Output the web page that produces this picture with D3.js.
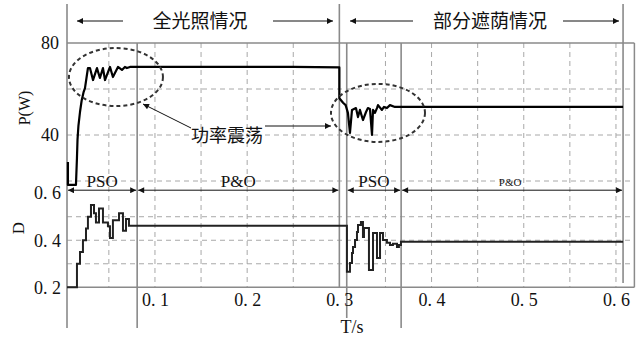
<!DOCTYPE html>
<html>
<head>
<meta charset="utf-8">
<script src="https://cdn.jsdelivr.net/npm/d3@7"></script>
<style>
  body { margin: 0; background: #fff; }
  text { font-family: "Liberation Serif", "Noto Sans CJK SC", serif; fill: #111; }
  .cjk { font-family: "Noto Sans CJK SC", sans-serif; }
</style>
</head>
<body>
<script>
// Chart data
var timeTicks = [0.1, 0.2, 0.3, 0.4, 0.5, 0.6];
var timeGrid = [0.05, 0.1, 0.15, 0.2, 0.25, 0.35, 0.4, 0.45, 0.5, 0.55, 0.6];
var powerTicks = [40, 80];
var powerGrid = [20, 40, 60];
var dutyTicks = [0.2, 0.4, 0.6];
var dutyGrid = [0.3, 0.4, 0.5];

// phase boundaries (s)
var phaseEdges = [0.0046, 0.0807, 0.3, 0.308, 0.367, 0.6077];
var phaseNames = ["PSO", "P&O", "PSO", "P&O"];
var caseNames = ["全光照情况", "部分遮荫情况"];

// output power P (W)
var pTime = [0.0056, 0.0056, 0.0143, 0.0154, 0.016, 0.017, 0.0187, 0.0205, 0.0225, 0.0241,
  0.0262, 0.0273, 0.0295, 0.0328, 0.0371, 0.0403, 0.0436, 0.0458, 0.0512, 0.0544,
  0.0599, 0.0642, 0.0674, 0.0696, 0.0729, 0.25, 0.3, 0.3, 0.304, 0.3068,
  0.3093, 0.3115, 0.3137, 0.318, 0.3202, 0.3223, 0.3256, 0.3289, 0.331, 0.3332,
  0.3354, 0.3365, 0.3386, 0.3408, 0.3419, 0.3462, 0.3484, 0.3516, 0.3549, 0.3603,
  0.3677, 0.6077];
var pValue = [28.3, 18.3, 18.3, 30, 38, 44, 50, 55, 58.5, 60.4,
  66.1, 69.1, 69.1, 63.9, 69.1, 64.8, 69.1, 63.9, 69.6, 65.2,
  69.6, 68.3, 69.6, 69.1, 69.6, 69.6, 69.4, 56, 54, 53,
  49.6, 40.9, 50.9, 51.7, 47.8, 50.9, 46.5, 50, 51.7, 51.3,
  40, 50.9, 49.6, 51.7, 53, 50.9, 52.2, 51.7, 53, 52.2,
  52.2, 52.2];

// duty cycle D (step signal)
var dTime = [0.0046, 0.0154, 0.0187, 0.0219, 0.0252, 0.0273, 0.0306, 0.0339, 0.036, 0.0393,
  0.0436, 0.049, 0.0512, 0.0544, 0.061, 0.0653, 0.0686, 0.0718, 0.3082, 0.3115,
  0.3137, 0.3148, 0.317, 0.3191, 0.3202, 0.3234, 0.3256, 0.3267, 0.3321, 0.3365,
  0.3408, 0.3441, 0.3473, 0.3516, 0.3549, 0.3581, 0.3625, 0.3646, 0.3668, 0.6077];
var dValue = [0.2, 0.3, 0.35, 0.4, 0.45, 0.5, 0.55, 0.515, 0.475, 0.535,
  0.475, 0.46, 0.41, 0.485, 0.515, 0.44, 0.49, 0.462, 0.266, 0.303,
  0.346, 0.371, 0.401, 0.435, 0.465, 0.478, 0.414, 0.452, 0.274, 0.431,
  0.325, 0.431, 0.401, 0.389, 0.38, 0.385, 0.371, 0.38, 0.394, 0.394];

var svgWidth = 641;
var svgHeight = 341;

var svg = d3.select("body")
  .append("svg")
  .attr("width", svgWidth)
  .attr("height", svgHeight);

svg.append("defs").append("marker")
  .attr("id", "arrow")
  .attr("viewBox", "0 0 10 10")
  .attr("refX", 10).attr("refY", 5)
  .attr("markerWidth", 9).attr("markerHeight", 6)
  .attr("markerUnits", "userSpaceOnUse")
  .attr("orient", "auto-start-reverse")
  .append("path")
  .attr("d", "M0,0 L10,5 L0,10 Z")
  .attr("fill", "#111");

// scales
var xScale = d3.scaleLinear().domain([0.0046, 0.62]).range([67, 634.4]);
var pScale = d3.scaleLinear().domain([40, 80]).range([135, 43]);
var dScale = d3.scaleLinear().domain([0.2, 0.6]).range([287.3, 193.2]);

var gridColor = "#a8a8a8";
var frameColor = "#8a8a8a";

// dashed grid
svg.append("g").selectAll("line")
  .data(timeGrid)
  .enter().append("line")
  .attr("x1", d => xScale(d)).attr("x2", d => xScale(d))
  .attr("y1", pScale(80)).attr("y2", dScale(0.2))
  .attr("stroke", gridColor).attr("stroke-dasharray", "5,4");

svg.append("g").selectAll("line")
  .data(powerGrid)
  .enter().append("line")
  .attr("x1", xScale.range()[0]).attr("x2", xScale.range()[1])
  .attr("y1", d => pScale(d)).attr("y2", d => pScale(d))
  .attr("stroke", gridColor).attr("stroke-dasharray", "5,4");

svg.append("g").selectAll("line")
  .data(dutyGrid)
  .enter().append("line")
  .attr("x1", xScale.range()[0]).attr("x2", xScale.range()[1])
  .attr("y1", d => dScale(d)).attr("y2", d => dScale(d))
  .attr("stroke", gridColor).attr("stroke-dasharray", "5,4");

// frame
svg.append("line")
  .attr("x1", xScale.range()[0]).attr("x2", xScale.range()[1])
  .attr("y1", pScale(80)).attr("y2", pScale(80))
  .attr("stroke", frameColor).attr("stroke-width", 1.5);
svg.append("line")
  .attr("x1", xScale.range()[0]).attr("x2", xScale.range()[1])
  .attr("y1", dScale(0.2)).attr("y2", dScale(0.2))
  .attr("stroke", frameColor).attr("stroke-width", 1.5);
svg.append("line")
  .attr("x1", xScale.range()[1]).attr("x2", xScale.range()[1])
  .attr("y1", pScale(80)).attr("y2", dScale(0.2))
  .attr("stroke", frameColor).attr("stroke-width", 1.5);

// phase boundary lines
var edgeTop = [4, 43, 4, 43, 43, 4];
var edgeBottom = [328, 328, 288, 318, 328, 283];
svg.append("g").selectAll("line")
  .data(phaseEdges)
  .enter().append("line")
  .attr("x1", d => xScale(d)).attr("x2", d => xScale(d))
  .attr("y1", (d, i) => edgeTop[i]).attr("y2", (d, i) => edgeBottom[i])
  .attr("stroke", frameColor).attr("stroke-width", 1.6);

// curves
var pLine = d3.line()
  .x(d => xScale(d[0]))
  .y(d => pScale(d[1]));
svg.append("path")
  .datum(pTime.map((t, i) => [t, pValue[i]]))
  .attr("d", pLine)
  .attr("fill", "none")
  .attr("stroke", "#000")
  .attr("stroke-width", 2.2)
  .attr("stroke-linejoin", "round");

var dLine = d3.line()
  .curve(d3.curveStepAfter)
  .x(d => xScale(d[0]))
  .y(d => dScale(d[1]));
svg.append("path")
  .datum(dTime.map((t, i) => [t, dValue[i]]))
  .attr("d", dLine)
  .attr("fill", "none")
  .attr("stroke", "#222")
  .attr("stroke-width", 2);

// oscillation ellipses
var ellipses = [[0.0577, 65.2], [0.3419, 49.6]];
svg.append("g").selectAll("ellipse")
  .data(ellipses)
  .enter().append("ellipse")
  .attr("cx", d => xScale(d[0]))
  .attr("cy", d => pScale(d[1]))
  .attr("rx", 47).attr("ry", 29)
  .attr("fill", "none")
  .attr("stroke", "#333")
  .attr("stroke-width", 2)
  .attr("stroke-dasharray", "4,3");

// 功率震荡 label with arrows
svg.append("text")
  .attr("class", "cjk")
  .attr("x", 227).attr("y", 142)
  .attr("text-anchor", "middle")
  .attr("font-size", 18)
  .text("功率震荡");
svg.append("line")
  .attr("x1", 191).attr("y1", 128).attr("x2", 143).attr("y2", 104)
  .attr("stroke", "#111").attr("stroke-width", 1)
  .attr("marker-end", "url(#arrow)");
svg.append("line")
  .attr("x1", 265).attr("y1", 126).attr("x2", 331).attr("y2", 126)
  .attr("stroke", "#111").attr("stroke-width", 1)
  .attr("marker-end", "url(#arrow)");

// top case headers: [text centre, left arrow tip, right arrow tip]
var caseSpans = [[200, 77, 333], [490, 350, 619]];
caseSpans.forEach(function(s, i) {
  var cx = s[0];
  svg.append("line")
    .attr("x1", cx - 77).attr("x2", s[1]).attr("y1", 21).attr("y2", 21)
    .attr("stroke", "#111").attr("marker-end", "url(#arrow)");
  svg.append("line")
    .attr("x1", cx + 73).attr("x2", s[2]).attr("y1", 21).attr("y2", 21)
    .attr("stroke", "#111").attr("marker-end", "url(#arrow)");
  svg.append("text")
    .attr("class", "cjk")
    .attr("x", cx).attr("y", 28)
    .attr("text-anchor", "middle")
    .attr("font-size", 19)
    .text(caseNames[i]);
});

// PSO / P&O phase arrows
var arrowY = dScale(0.6) - 3;
var phaseSegs = [[0, 1], [1, 2], [3, 4], [4, 5]];
phaseSegs.forEach(function(s, i) {
  var x1 = xScale(phaseEdges[s[0]]) + 1;
  var x2 = xScale(phaseEdges[s[1]]) - 1;
  svg.append("line")
    .attr("x1", x1).attr("x2", x2).attr("y1", arrowY).attr("y2", arrowY)
    .attr("stroke", "#111")
    .attr("marker-start", "url(#arrow)")
    .attr("marker-end", "url(#arrow)");
  svg.append("text")
    .attr("x", (x1 + x2) / 2 + (i == 3 ? -2 : 0))
    .attr("y", i == 3 ? arrowY - 4 : arrowY - 3)
    .attr("text-anchor", "middle")
    .attr("font-size", i == 3 ? 11 : 17)
    .text(phaseNames[i]);
});

// axes
var fmt = d => String(d).replace(".", ". ");
svg.append("g")
  .attr("transform", "translate(67,0)")
  .call(d3.axisLeft(pScale).tickValues(powerTicks).tickSize(0).tickPadding(8))
  .call(g => g.select(".domain").remove())
  .selectAll("text")
  .attr("font-size", 18).attr("font-family", "Liberation Serif").attr("fill", "#111");

svg.append("g")
  .attr("transform", "translate(67,0)")
  .call(d3.axisLeft(dScale).tickValues(dutyTicks).tickSize(0).tickPadding(6).tickFormat(fmt))
  .call(g => g.select(".domain").remove())
  .selectAll("text")
  .attr("font-size", 18).attr("font-family", "Liberation Serif").attr("fill", "#111");

svg.append("g")
  .attr("transform", `translate(0, ${dScale(0.2)})`)
  .call(d3.axisBottom(xScale).tickValues(timeTicks).tickSize(0).tickPadding(6).tickFormat(fmt))
  .call(g => g.select(".domain").remove())
  .selectAll("text")
  .attr("font-size", 18).attr("font-family", "Liberation Serif").attr("fill", "#111");

// axis titles
svg.append("text")
  .attr("transform", "translate(30,108) rotate(-90)")
  .attr("text-anchor", "middle")
  .attr("font-size", 16)
  .text("P(W)");
svg.append("text")
  .attr("transform", "translate(24,228) rotate(-90)")
  .attr("text-anchor", "middle")
  .attr("font-size", 17)
  .text("D");
svg.append("text")
  .attr("x", 352).attr("y", 333)
  .attr("text-anchor", "middle")
  .attr("font-size", 18)
  .text("T/s");
</script>
</body>
</html>
